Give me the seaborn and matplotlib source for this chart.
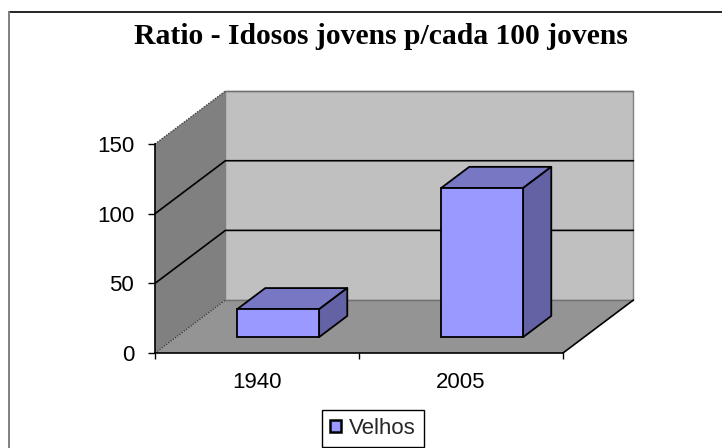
import pandas as pd
import matplotlib
matplotlib.use("Agg")
import matplotlib.pyplot as plt
import seaborn as sns
from matplotlib.lines import Line2D
from matplotlib.patches import Polygon

# Valeurs
anos = ["1940", "2005"]
velhos = [20, 107]
y_ticks = [0, 50, 100, 150]
serie = "Velhos"
titulo = "Ratio - Idosos jovens p/cada 100 jovens"

# Decalage de profondeur (unites de donnees) pour la fausse 3D
DX = 0.345
DY = 38
D_FRONT = 0.3
D_BACK = 0.7

C_BAR = "#9999ff"
C_TOP = "#7777c4"
C_SIDE = "#6262a4"

sns.set_style("white")
plt.rcParams["font.family"] = ["Liberation Sans", "DejaVu Sans"]


def proj(x, y, d):
    return (x + d * DX, y + d * DY)


fig = plt.figure(figsize=(7.22, 4.48), dpi=100)
ax = fig.add_axes([155 / 722, (448 - 353) / 448, 408 / 722, 209 / 448])

df = pd.DataFrame({"ano": anos, "valor": velhos, "serie": serie})
sns.barplot(data=df, x="ano", y="valor", hue="serie", palette=[C_BAR], width=0.402,
            saturation=1, edgecolor="black", linewidth=1.3, ax=ax, zorder=5)

x0, x1 = -0.5, 1.5
y0, y1 = y_ticks[0], y_ticks[-1]
ax.set_xlim(x0, x1)
ax.set_ylim(y0, y1)

# Parois
clip = dict(clip_on=False)
ax.add_patch(Polygon([proj(x0, y0, 0), proj(x0, y0, 1), proj(x0, y1, 1), proj(x0, y1, 0)],
                     fc="#808080", ec="none", zorder=1, **clip))
ax.add_patch(Polygon([proj(x0, y0, 1), proj(x1, y0, 1), proj(x1, y1, 1), proj(x0, y1, 1)],
                     fc="#c0c0c0", ec="#808080", lw=1, zorder=1, **clip))
ax.add_patch(Polygon([proj(x0, y0, 0), proj(x1, y0, 0), proj(x1, y0, 1), proj(x0, y0, 1)],
                     fc="#949494", ec="none", zorder=1, **clip))

# Quadrillage
for v in y_ticks[1:-1]:
    pts = [proj(x0, v, 0), proj(x0, v, 1), proj(x1, v, 1)]
    ax.plot(*zip(*pts), color="black", lw=1.2, zorder=2, **clip)
for v, d0 in [(y0, 0), (y1, 0)]:
    pts = [proj(x0, v, d0), proj(x0, v, 1)]
    ax.plot(*zip(*pts), color="#404040", lw=1, ls=(0, (1, 1)), zorder=2, **clip)
ax.plot(*zip(proj(x0, y1, 1), proj(x1, y1, 1)), color="#707070", lw=1, zorder=2, **clip)
ax.plot(*zip(proj(x1, y0, 0), proj(x1, y0, 1)), color="black", lw=1.2, zorder=3, **clip)
ax.plot(*zip(proj(x0, y0, 1), proj(x1, y0, 1)), color="#707070", lw=1, zorder=2, **clip)

# Barres : la face avant vient de seaborn, le reste en est deduit
for bar in ax.containers[0]:
    x = bar.get_x()
    w = bar.get_width()
    h = bar.get_height()
    bar.set_xy(proj(x, 0, D_FRONT))
    bx = bar.get_x()
    by = bar.get_y()
    d = D_BACK - D_FRONT
    top = [(bx, by + h), (bx + w, by + h), proj(bx + w, by + h, d), proj(bx, by + h, d)]
    side = [(bx + w, by), (bx + w, by + h), proj(bx + w, by + h, d), proj(bx + w, by, d)]
    ax.add_patch(Polygon(top, fc=C_TOP, ec="black", lw=1.3, zorder=4, joinstyle="round"))
    ax.add_patch(Polygon(side, fc=C_SIDE, ec="black", lw=1.3, zorder=4, joinstyle="round"))

# Axes
for s in ["top", "right"]:
    ax.spines[s].set_visible(False)
for s in ["left", "bottom"]:
    ax.spines[s].set_visible(True)
    ax.spines[s].set_color("black")
    ax.spines[s].set_linewidth(1.2)
    ax.spines[s].set_zorder(3)
ax.set_xlabel("")
ax.set_ylabel("")
ax.set_yticks(y_ticks)
ax.set_xticks([x0, 0.5, x1])
ax.set_xticklabels([])
ax.set_xticks([0, 1], labels=anos, minor=True)
ax.tick_params(axis="x", which="major", bottom=True, length=4.5, width=1, color="black")
ax.tick_params(axis="x", which="minor", bottom=False, length=0, pad=13.7, labelsize=16,
               labelcolor="black")
ax.tick_params(axis="y", left=True, length=5, width=1, color="black", pad=10, labelsize=16,
               labelcolor="black")

fig.text(381 / 722, 1 - 36.5 / 448, titulo, ha="center", va="center", fontsize=21.3,
         fontweight="bold", family="Liberation Serif", color="black")

# Cadre : seuls les bords haut et gauche sont dans l'image
fig.add_artist(Line2D([8.5 / 722, 1], [1 - 12.5 / 448] * 2, color="black", lw=1.2))
fig.add_artist(Line2D([8.5 / 722] * 2, [0, 1 - 12.5 / 448], color="#808080", lw=1.4))

# Legende
handles, labels = ax.get_legend_handles_labels()
ax.legend_.remove()
leg = fig.legend(handles, labels, loc="center", bbox_to_anchor=(373 / 722, 1 - 428.5 / 448),
                 fontsize=16, fancybox=False, framealpha=1, edgecolor="black",
                 handlelength=0.5, handleheight=0.5, handletextpad=0.36, borderpad=0.38,
                 borderaxespad=0)
leg.get_frame().set_linewidth(1)
for h in leg.legend_handles:
    h.set_edgecolor("black")
    h.set_linewidth(1.8)

fig.savefig("out.png", dpi=100, facecolor="white")
